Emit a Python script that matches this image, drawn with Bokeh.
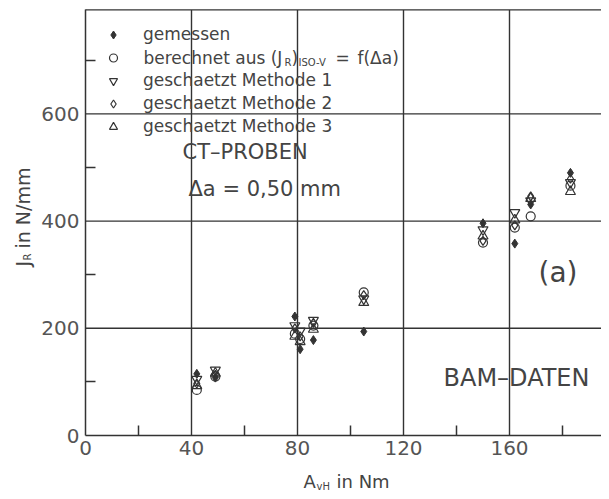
import math
from bokeh.plotting import figure
from bokeh.models import Label, FixedTicker, Legend, LegendItem, Range1d
from bokeh.embed import file_html
from bokeh.resources import INLINE

# ---- data ----
a_vh = [42, 49, 79, 81, 86, 105, 150, 162, 168, 183]
j_gemessen = [115, 108, 222, 161, 178, 194, 396, 358, 431, 490]
j_berechnet = [85, 110, 190, 180, 205, 267, 360, 388, 409, 466]
j_methode1 = [105, 122, 205, 195, 215, 255, 384, 416, 438, 472]
j_methode2 = [97, 113, 200, 185, 210, 262, 363, 392, 446, 479]
j_methode3 = [93, 116, 185, 175, 198, 248, 372, 402, 442, 455]

x_ticks = [0, 40, 80, 120, 160]
x_minor = [20, 60, 100, 140, 180]
y_ticks = [0, 200, 400, 600]
y_minor = [100, 300, 500, 700]
y_top = 794

# ---- geometry: canvas pixels -> data ----
W, H = 601, 491
OX, OY = 85, 435          # canvas position of (0, 0)
SX, SY = 2.65, 0.536      # pixels per unit

def dx(px):
    return (px - OX) / SX

def dy(py):
    return (OY - py) / SY

INK = "#333333"
TXT = "#444444"
FONT = "DejaVu Sans"

p = figure(width=W, height=H, x_range=Range1d(dx(0), dx(W)), y_range=Range1d(dy(H), dy(0)),
           output_backend="svg", toolbar_location=None, min_border=0,
           min_border_left=0, min_border_right=0, min_border_top=0, min_border_bottom=0)
p.outline_line_color = None
p.background_fill_color = "white"
p.xgrid.visible = False
p.ygrid.visible = False

for ax, tk, mn in ((p.xaxis, x_ticks, x_minor), (p.yaxis, y_ticks, y_minor)):
    ax.fixed_location = 0
    ax.ticker = FixedTicker(ticks=tk, minor_ticks=mn)
    ax.axis_line_color = INK
    ax.axis_line_width = 1.5
    ax.major_tick_in = 0
    ax.major_tick_out = 0
    ax.minor_tick_in = 10
    ax.minor_tick_out = 0
    ax.minor_tick_line_color = INK
    ax.minor_tick_line_width = 1.5
    ax.major_label_text_font = FONT
    ax.major_label_text_font_size = "20px"
    ax.major_label_text_color = "#555555"
p.xaxis.bounds = (0, dx(W))
p.yaxis.bounds = (0, y_top)
p.xaxis.major_label_standoff = 5
p.yaxis.major_label_standoff = 6

# grid lines and top frame line, from the tick lists
gx = x_ticks[1:]
p.segment(x0=gx, y0=[0] * len(gx), x1=gx, y1=[y_top] * len(gx), line_color=INK, line_width=1.4)
gy = y_ticks[1:] + [y_top]
p.segment(x0=[0] * len(gy), y0=gy, x1=[dx(W)] * len(gy), y1=gy, line_color=INK, line_width=1.4)

# ---- data marks ----
r_gem = p.scatter(a_vh, j_gemessen, marker="diamond", size=9, fill_color=INK, line_color=INK)
r_ber = p.scatter(a_vh, j_berechnet, marker="circle", size=9, fill_color=None, line_color=INK, line_width=1.2)
r_m1 = p.scatter(a_vh, j_methode1, marker="inverted_triangle", size=10, fill_color=None, line_color=INK, line_width=1.2)
r_m2 = p.scatter(a_vh, j_methode2, marker="diamond", size=9, fill_color=None, line_color=INK, line_width=1.2)
r_m3 = p.scatter(a_vh, j_methode3, marker="triangle", size=10, fill_color=None, line_color=INK, line_width=1.2)

# ---- legend ----
ROW = 23
row1 = 34
mark_x = 113
text_x = 143
leg_top = row1 - ROW / 2
legend = Legend(items=[
    LegendItem(label="gemessen", renderers=[r_gem]),
    LegendItem(label=" ", renderers=[r_ber]),
    LegendItem(label="geschaetzt Methode 1", renderers=[r_m1]),
    LegendItem(label="geschaetzt Methode 2", renderers=[r_m2]),
    LegendItem(label="geschaetzt Methode 3", renderers=[r_m3]),
], location=(mark_x - 10, H - leg_top - 5 * ROW))
legend.padding = 0
legend.margin = 0
legend.spacing = 0
legend.label_height = ROW
legend.glyph_height = ROW
legend.glyph_width = 20
legend.label_standoff = text_x - mark_x - 10
legend.border_line_color = None
legend.background_fill_alpha = 0
legend.label_text_font = FONT
legend.label_text_font_size = "17px"
legend.label_text_color = TXT
p.add_layout(legend)

def lab(px, py, text, size, align="left", angle=0.0, color=TXT):
    p.add_layout(Label(x=dx(px), y=dy(py), text=text, text_font=FONT,
                       text_font_size=f"{size}px", text_color=color,
                       text_align=align, text_baseline="middle", angle=angle))

# second legend row with subscripts
row2 = row1 + ROW
lab(text_x, row2, "berechnet aus (J", 17)
lab(text_x + 141, row2 + 5, "R", 10)
lab(text_x + 148, row2, ")", 17)
lab(text_x + 155, row2 + 5, "ISO-V", 10)
lab(text_x + 192, row2, "=", 17)
lab(text_x + 214, row2, "f(\u0394a)", 17)

# annotations
lab(182, 151, "CT\u2013PROBEN", 21)
lab(188, 188, "\u0394a = 0,50 mm", 21)
lab(538, 272, "(a)", 28)
lab(443, 377, "BAM\u2013DATEN", 24)

# axis titles
lab(303, 481, "A", 18)
lab(316, 486, "vH", 10)
lab(336, 481, "in Nm", 18)

ang = math.pi / 2
lab(22, 266, "J", 19, angle=ang)
lab(27, 260, "R", 10, angle=ang)
lab(22, 248, "in N/mm", 19, angle=ang)

open("out.html", "w").write(file_html(p, INLINE))
